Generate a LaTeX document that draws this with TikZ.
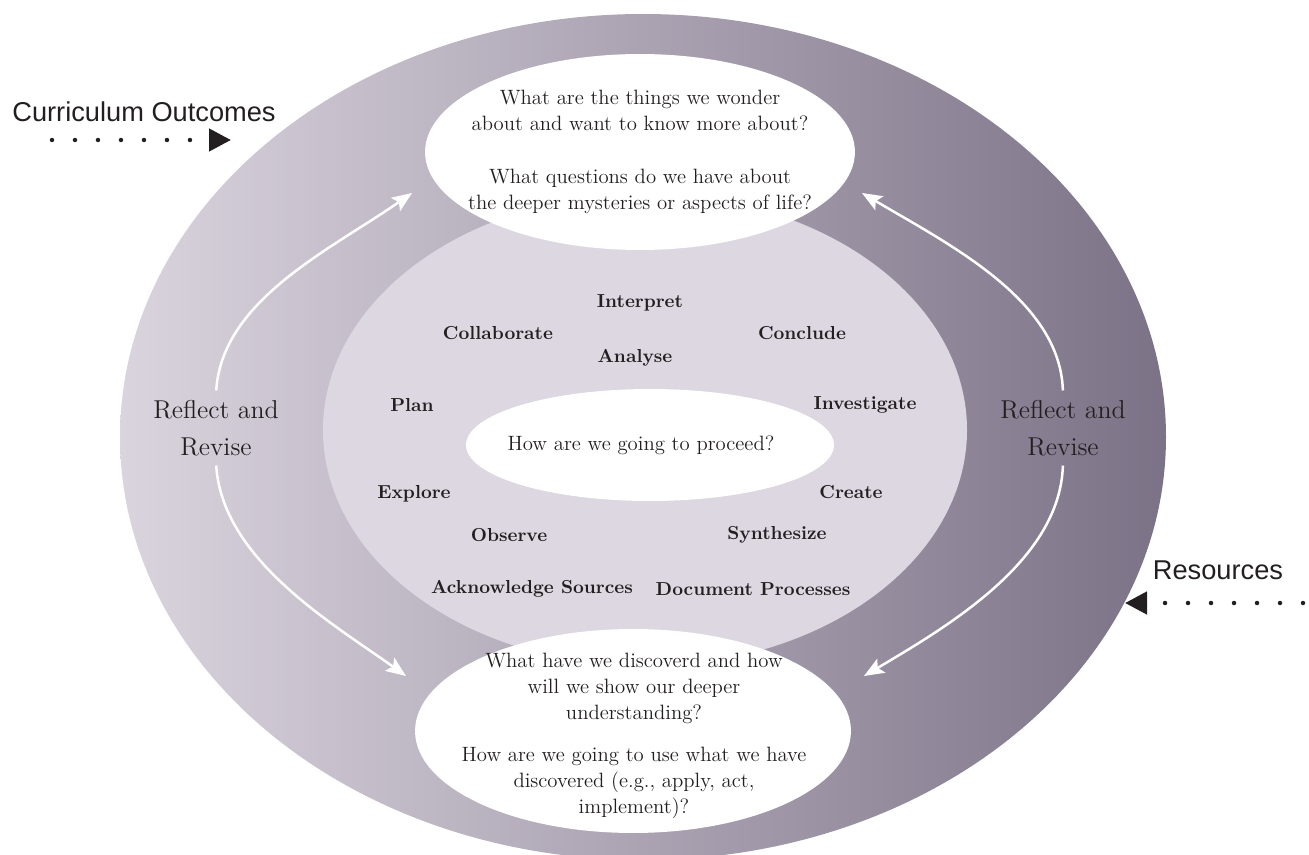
\documentclass[tikz,border=0pt]{standalone}
\usepackage{fontspec}
\newfontfamily\labelfont{Liberation Sans}
\usetikzlibrary{arrows.meta,shapes.geometric}

\definecolor{ringLight}{HTML}{DAD4DE}
\definecolor{ringMid}{HTML}{ABA3B2}
\definecolor{ringDark}{HTML}{7C7287}
\definecolor{innerFill}{HTML}{DCD7E1}
\definecolor{ink}{HTML}{231F20}

\begin{document}
\begin{tikzpicture}[x=0.02cm, y=-0.02cm,
    bowl/.style={draw=none, fill=white, ellipse, inner sep=0pt},
    question/.style={align=center, text=ink, font=\fontsize{11.8}{14.8}\selectfont},
    word/.style={text=ink, font=\fontsize{10.7}{13}\selectfont\bfseries},
    revise/.style={align=center, text=ink, font=\fontsize{14.7}{21}\selectfont},
    sidelabel/.style={text=ink, font=\labelfont\fontsize{15.5}{18}\selectfont},
    flow/.style={draw=white, line width=0.05cm, shorten <=2pt,
        -{Stealth[length=0.4cm, width=0.32cm, inset=0.08cm]}},
    dotflow/.style={draw=ink, line width=0.09cm, line cap=round,
        dash pattern=on 0pt off 0.46cm, -{Triangle[length=0.44cm, width=0.44cm]}}
]
    \useasboundingbox (0,0) rectangle (1309,855);

    % Rings
    \shade[left color=ringLight, right color=ringDark, middle color=ringMid]
        (643,437) ellipse [x radius=523, y radius=423];
    \fill[innerFill] (645,430) ellipse [x radius=322, y radius=236];

    % Question ellipses
    \node[bowl, minimum width=8.6cm, minimum height=3.92cm] (qtop) at (640,152) {};
    \node[bowl, minimum width=7.36cm, minimum height=2.24cm] (qmid) at (650,445) {};
    \node[bowl, minimum width=8.72cm, minimum height=4.08cm] (qbot) at (633,731) {};

    \node[question] (qtopText) at (qtop) {What are the things we wonder\\
        about and want to know more about?\\[15pt]
        What questions do we have about\\
        the deeper mysteries or aspects of life?};
    \node[question] (qmidText) at (641,445) {How are we going to proceed?};
    \node[question] (qbotText) at (634,736) {What have we discoverd and how\\
        will we show our deeper\\
        understanding?\\[9.5pt]
        How are we going to use what we have\\
        discovered (e.g., apply, act,\\
        implement)?};

    % Process words
    \node[word] (interpret) at (640,303) {Interpret};
    \node[word] (collaborate) at (498,333) {Collaborate};
    \node[word] (conclude) at (802,333) {Conclude};
    \node[word] (analyse) at (635,358) {Analyse};
    \node[word] (plan) at (412,405) {Plan};
    \node[word] (investigate) at (865,405) {Investigate};
    \node[word] (explore) at (414,494) {Explore};
    \node[word] (create) at (851,492) {Create};
    \node[word] (observe) at (509,535) {Observe};
    \node[word] (synthesize) at (777,535) {Synthesize};
    \node[word] (acknowledge) at (532,589) {Acknowledge Sources};
    \node[word] (document) at (753,589) {Document Processes};

    % Reflect and revise
    \node[revise] (reflectL) at (216,428) {Reflect and\\Revise};
    \node[revise] (reflectR) at (1063,428) {Reflect and\\Revise};

    \coordinate (tipTL) at (412,193);
    \coordinate (tipBL) at (406,676);
    \coordinate (tipTR) at (862,193);
    \coordinate (tipBR) at (864,676);
    \draw[flow] (reflectL.north) .. controls (222,300) and (330,250) .. (tipTL);
    \draw[flow] (reflectL.south) .. controls (222,560) and (335,625) .. (tipBL);
    \draw[flow] (reflectR.north) .. controls (1060,300) and (950,245) .. (tipTR);
    \draw[flow] (reflectR.south) .. controls (1060,560) and (950,625) .. (tipBR);

    % Inputs
    \node[sidelabel] (curLabel) at (144,112) {Curriculum Outcomes};
    \node[sidelabel] (resLabel) at (1218,570) {Resources};
    \coordinate (curTail) at (52,140);
    \coordinate (curHead) at (231,140);
    \coordinate (resTail) at (1303,603);
    \coordinate (resHead) at (1125,603);
    \draw[dotflow] (curTail) -- (curHead);
    \draw[dotflow] (resTail) -- (resHead);
\end{tikzpicture}
\end{document}
